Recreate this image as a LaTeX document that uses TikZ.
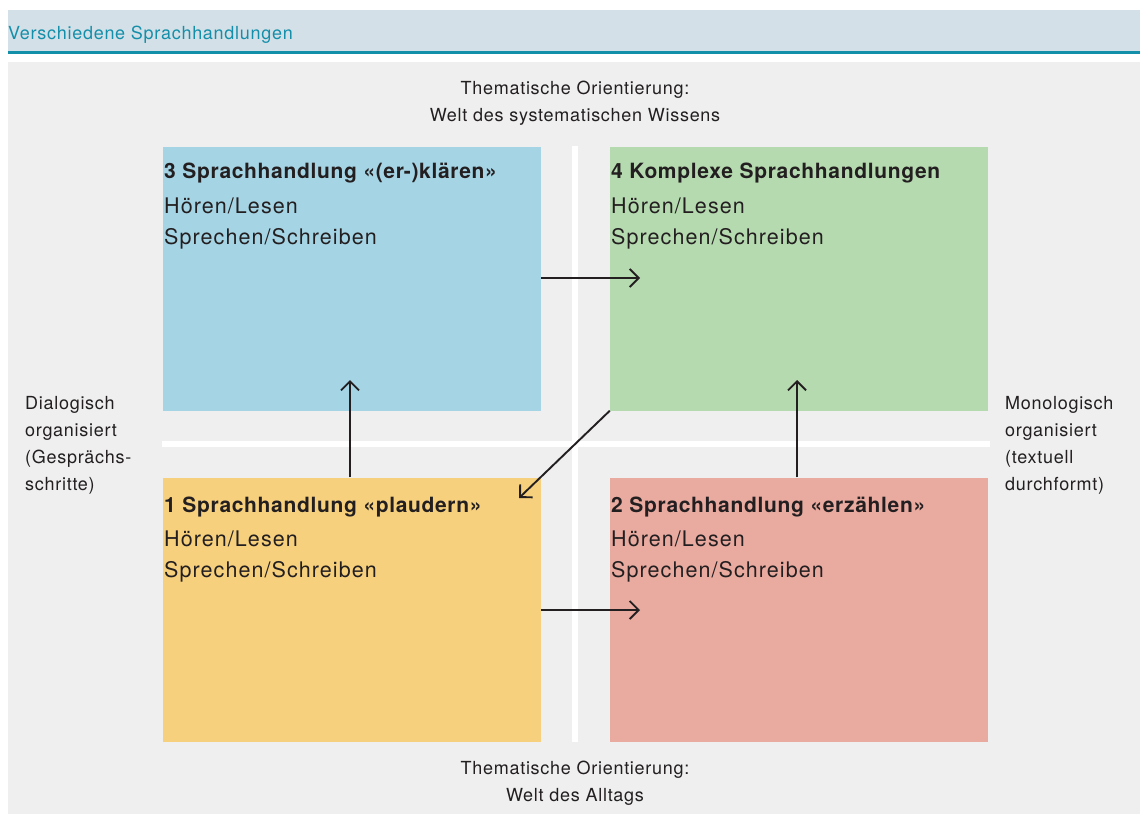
\documentclass[tikz,border=0pt]{standalone}
\usepackage{fontspec}
\setmainfont{TeX Gyre Heros}
\usetikzlibrary{arrows.meta}
\definecolor{txt}{RGB}{35,31,32}
\definecolor{teal}{RGB}{20,143,170}
\definecolor{headbg}{RGB}{211,224,231}
\definecolor{graybg}{RGB}{238,239,238}
\definecolor{bluebox}{RGB}{165,212,229}
\definecolor{greenbox}{RGB}{182,218,176}
\definecolor{yellowbox}{RGB}{246,208,125}
\definecolor{redbox}{RGB}{233,170,160}
\tikzset{
  quad/.style={draw=none, minimum width=378pt, minimum height=264pt, inner sep=0pt},
  ttl/.style={anchor=west, inner sep=0pt, text=txt, font=\fontsize{21}{24}\selectfont\bfseries\addfontfeatures{LetterSpace=3.2}},
  bdy/.style={anchor=west, inner sep=0pt, text=txt, font=\fontsize{21.5}{24}\selectfont\addfontfeatures{LetterSpace=5}},
  side/.style={inner sep=0pt, text=txt, font=\fontsize{18}{27}\selectfont\addfontfeatures{LetterSpace=4}, align=left},
  ctr/.style={inner sep=0pt, text=txt, font=\fontsize{18}{27}\selectfont\addfontfeatures{LetterSpace=4}, align=center},
  arr/.style={draw=txt, line width=1.9pt, -{Straight Barb[length=9pt,width=18pt,line width=1.9pt]}}
}
\begin{document}
\begin{tikzpicture}[x=1pt,y=-1pt]
\useasboundingbox (0,0) rectangle (1140,814);
\fill[white] (0,0) rectangle (1140,814);
% header
\fill[headbg] (8,10) rectangle (1140,51);
\fill[teal] (8,51) rectangle (1140,54);
\node[anchor=west, inner sep=0pt, text=teal, font=\fontsize{18}{20}\selectfont\addfontfeatures{LetterSpace=4}] (hdr) at (8,35) {Verschiedene Sprachhandlungen};
% gray area
\fill[graybg] (8,62) rectangle (1140,814);
% white cross
\fill[white] (162,441) rectangle (990,447);
\fill[white] (572,146) rectangle (578,742);
% quadrants
\node[quad, fill=bluebox] (q3) at (352,278.5) {};
\node[quad, fill=greenbox] (q4) at (799,278.5) {};
\node[quad, fill=yellowbox] (q1) at (352,609.5) {};
\node[quad, fill=redbox] (q2) at (799,609.5) {};
% texts
\node[ttl] (t3) at (164,173) {3 Sprachhandlung «(er-)klären»};
\node[bdy] (h3) at (164,206) {Hören/Lesen};
\node[bdy] (s3) at (164,238.5) {Sprechen/Schreiben};
\node[ttl] (t4) at (611,173) {4 Komplexe Sprachhandlungen};
\node[bdy] (h4) at (611,206) {Hören/Lesen};
\node[bdy] (s4) at (611,238.5) {Sprechen/Schreiben};
\node[ttl] (t1) at (164,507) {1 Sprachhandlung «plaudern»};
\node[bdy] (h1) at (164,539) {Hören/Lesen};
\node[bdy] (s1) at (164,571.5) {Sprechen/Schreiben};
\node[ttl] (t2) at (611,507) {2 Sprachhandlung «erzählen»};
\node[bdy] (h2) at (611,539) {Hören/Lesen};
\node[bdy] (s2) at (611,571.5) {Sprechen/Schreiben};
% outer labels
\node[ctr] (top) at (575,103) {Thematische Orientierung:\\Welt des systematischen Wissens};
\node[ctr] (bot) at (575,783.5) {Thematische Orientierung:\\Welt des Alltags};
\node[side, anchor=west] (lft) at (25,445.5) {Dialogisch\\organisiert\\(Gesprächs-\\schritte)};
\node[side, anchor=west] (rgt) at (1005,445.5) {Monologisch\\organisiert\\(textuell\\durchformt)};
% arrow end points
\coordinate (e34) at (640,278);
\coordinate (e12) at (640,610);
\coordinate (e13) at (350,380);
\coordinate (e24) at (797,380);
\coordinate (e41) at (519,498);
% arrows
\draw[arr] (q3.east |- e34) -- (e34);
\draw[arr] (q1.east |- e12) -- (e12);
\draw[arr] (q1.north -| e13) -- (e13);
\draw[arr] (q2.north -| e24) -- (e24);
\draw[arr] (q4.south west) -- (e41);
\end{tikzpicture}
\end{document}
